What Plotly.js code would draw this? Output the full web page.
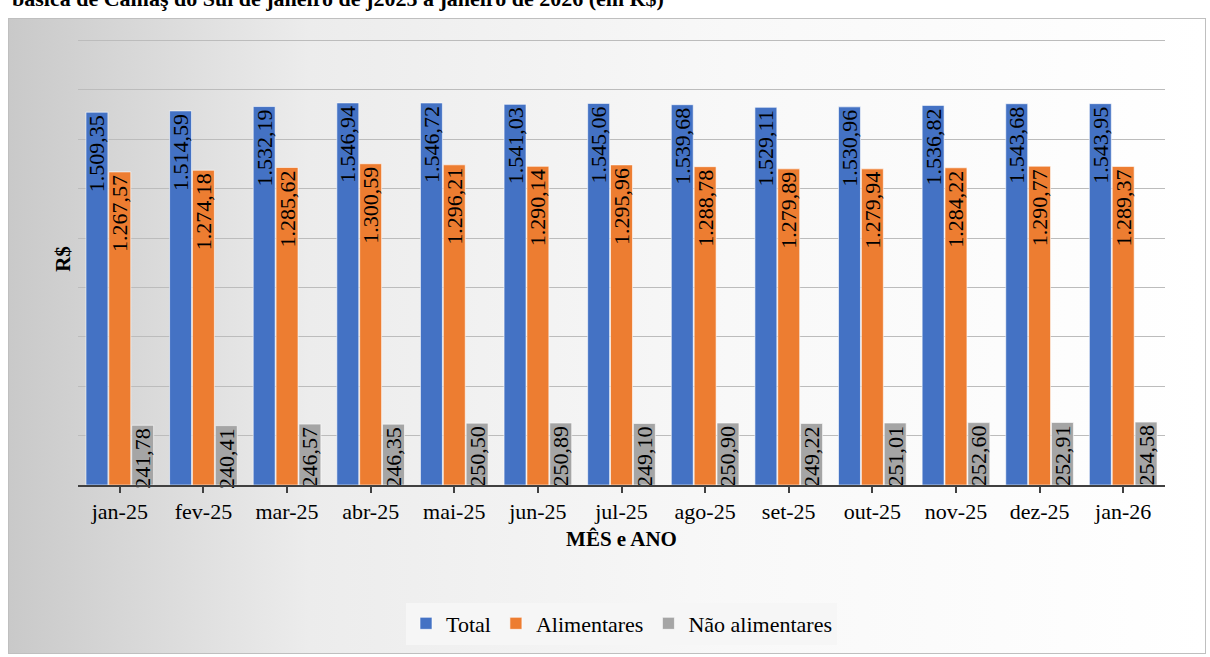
<!DOCTYPE html>
<html>
<head>
<meta charset="utf-8">
<script src="https://cdn.plot.ly/plotly-3.0.1.min.js"></script>
<style>
  body { margin: 0; background: #fff; }
  #frame { position: absolute; left: 8px; top: 18px; width: 1196px; height: 634px;
    background: linear-gradient(90deg, #c9c9c9 0%, #ececec 25%, #f8f8f8 60%, #ffffff 100%);
    border: 1px solid #bfbfbf; }
  #chart { position: absolute; left: 0; top: 0; width: 1210px; height: 657px; }
</style>
</head>
<body>
<div id="frame"></div>
<div id="chart"></div>
<script>
// Cesta básica - valores mensais em R$
const months = ["jan-25","fev-25","mar-25","abr-25","mai-25","jun-25","jul-25","ago-25","set-25","out-25","nov-25","dez-25","jan-26"];
const total = [1509.35,1514.59,1532.19,1546.94,1546.72,1541.03,1545.06,1539.68,1529.11,1530.96,1536.82,1543.68,1543.95];
const alimentares = [1267.57,1274.18,1285.62,1300.59,1296.21,1290.14,1295.96,1288.78,1279.89,1279.94,1284.22,1290.77,1289.37];
const naoAlimentares = [241.78,240.41,246.57,246.35,250.50,250.89,249.10,250.90,249.22,251.01,252.60,252.91,254.58];

const SERIF = "Liberation Serif, Times New Roman, serif";
const fmt = v => v.toLocaleString("pt-BR", {minimumFractionDigits: 2, maximumFractionDigits: 2});

function serie(name, vals, color) {
  return {
    type: "bar", name: name, x: months, y: vals,
    text: vals.map(fmt),
    textposition: "inside",
    insidetextanchor: "end",
    textangle: -90,
    constraintext: "none",
    cliponaxis: false,
    textfont: { family: SERIF, size: 22, color: "#000" },
    marker: { color: color, line: { color: "rgba(255,255,255,0.6)", width: 1 } },
    hoverinfo: "x+y+name"
  };
}

const data = [
  serie("Total", total, "#4472C4"),
  serie("Alimentares", alimentares, "#ED7D31"),
  serie("Não alimentares", naoAlimentares, "#A5A5A5")
];

const layout = {
  width: 1210, height: 657,
  margin: { l: 78, r: 45, t: 33, b: 172 },
  paper_bgcolor: "rgba(0,0,0,0)",
  plot_bgcolor: "rgba(0,0,0,0)",
  font: { family: SERIF, color: "#000" },
  barmode: "group",
  bargap: 0.18,
  bargroupgap: 0.04,
  xaxis: {
    tickfont: { family: SERIF, size: 22 },
    showline: true, linecolor: "#404040", linewidth: 2,
    ticks: "outside", ticklen: 6, tickcolor: "#404040", tickwidth: 2,
    title: { text: "<b>MÊS e ANO</b>", font: { family: SERIF, size: 21 }, standoff: 8 }
  },
  yaxis: {
    range: [0, 1830], tickvals: [200,400,600,800,1000,1200,1400,1600,1800],
    showticklabels: false,
    gridcolor: "#bcbcbc", gridwidth: 1,
    zeroline: false,
    title: { text: "<b>R$</b>", font: { family: SERIF, size: 21 }, standoff: 0 }
  },
  legend: {
    orientation: "h", x: 0.5, xanchor: "center", y: -0.26, yanchor: "top",
    bgcolor: "rgba(246,246,246,0.95)",
    font: { family: SERIF, size: 22 }
  },
  annotations: [{
    text: "<b>básica de Camaş do Sul de janeiro de j2025 a janeiro de 2026 (em R$)</b>",
    xref: "paper", yref: "paper", x: -0.063, xanchor: "left",
    y: 1.076, yanchor: "middle", showarrow: false,
    font: { family: SERIF, size: 22, color: "#000" }
  }],
  showlegend: true
};

Plotly.newPlot("chart", data, layout, { displayModeBar: false });
</script>
</body>
</html>
